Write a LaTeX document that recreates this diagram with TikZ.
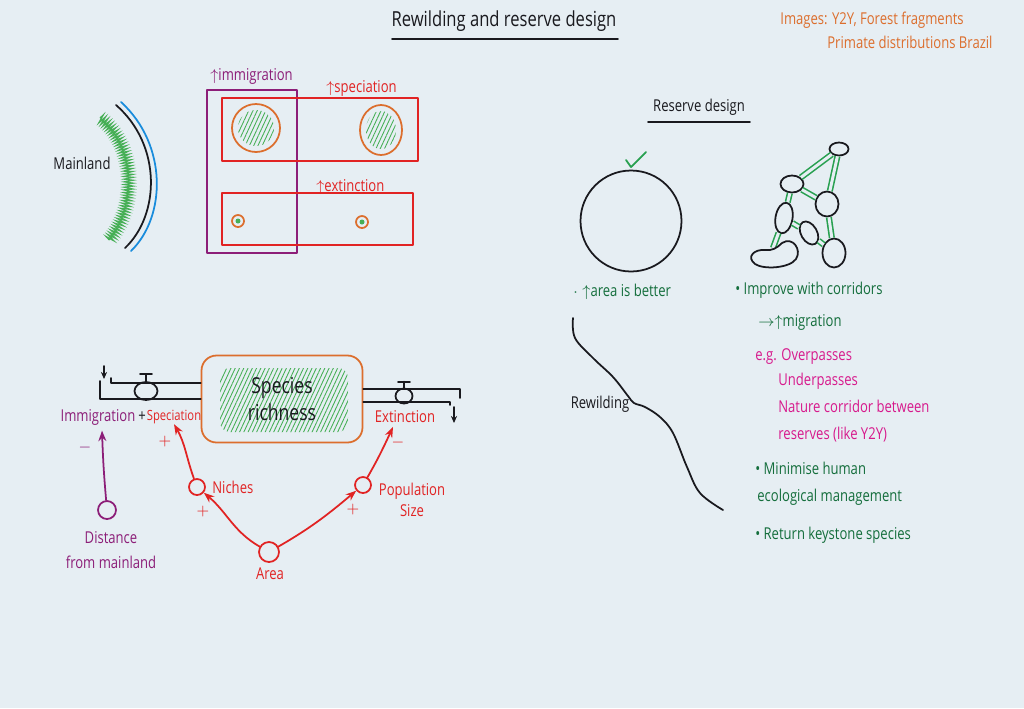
\documentclass[tikz,border=0pt]{standalone}
\usepackage{fontspec}
\setmainfont{Open Sans}[FakeStretch=0.8]
\usetikzlibrary{arrows.meta,shapes.geometric,decorations.pathmorphing,patterns.meta}
\definecolor{paper}{RGB}{230,238,243}
\definecolor{inkblack}{RGB}{25,25,30}
\definecolor{purpleink}{RGB}{140,30,120}
\definecolor{redink}{RGB}{225,35,35}
\definecolor{orangeink}{RGB}{220,110,45}
\definecolor{greenink}{RGB}{20,110,60}
\definecolor{hatchgreen}{RGB}{70,175,85}
\definecolor{magentaink}{RGB}{215,25,140}
\definecolor{blueink}{RGB}{25,140,220}
\definecolor{corrgreen}{RGB}{40,160,80}
\begin{document}
\begin{tikzpicture}[x=0.02cm,y=-0.02cm,
  ink/.style={line width=1pt, line cap=round, line join=round},
  txt/.style={inner sep=0pt, font=\fontsize{9.3}{11}\selectfont},
  arr/.style={ink, -{Stealth[length=6pt,width=4.5pt]}},
  smallarr/.style={ink, -{Stealth[length=4pt,width=3.5pt]}},
  valve/.style={ellipse, draw=inkblack, ink, inner sep=0pt},
  cnode/.style={circle, draw, ink, inner sep=0pt},
  blob/.style={ellipse, draw=inkblack, ink, fill=paper, inner sep=0pt},
  corridor/.style={draw=corrgreen, line width=0.9pt, double=paper, double distance=1.7pt},
  hatch/.style={pattern={Lines[angle=65,distance=2.2pt,line width=0.5pt]}, pattern color=hatchgreen}
]
\fill[paper] (0,0) rectangle (1024,708);
\useasboundingbox (0,0) rectangle (1024,708);

% ---------- title ----------
\node[txt, font=\fontsize{11.8}{13}\selectfont, text=inkblack] (title) at (504,21) {Rewilding and reserve design};
\draw[ink, inkblack] (392,39) -- (618,39);
\node[txt, text=orangeink, anchor=west] (img1) at (780,20) {Images: Y2Y, Forest fragments};
\node[txt, text=orangeink, anchor=west] (img2) at (827,42) {Primate distributions Brazil};

% ---------- mainland ----------
\node[txt, text=inkblack] (mainland) at (82,163) {Mainland};
\draw[hatchgreen, line width=0.7pt, decorate, decoration={zigzag, segment length=1.6pt, amplitude=2.5pt}]
  (100,118) .. controls (135,145) and (138,205) .. (109,240);
\draw[ink, inkblack] (116,105) .. controls (162,145) and (160,215) .. (125,248);
\draw[ink, blueink] (121,102) .. controls (168,145) and (166,217) .. (131,251);

% ---------- island boxes ----------
\draw[ink, purpleink] (207,90) rectangle (297,253);
\draw[ink, redink] (222,98) rectangle (418,161);
\draw[ink, redink] (222,193) rectangle (413,245);
\node[txt, text=purpleink, anchor=west] (limm) at (210,76) {$\uparrow$immigration};
\node[txt, text=redink, anchor=west] (lspec) at (326,88) {$\uparrow$speciation};
\node[txt, text=redink, anchor=west] (lext) at (316,187) {$\uparrow$extinction};
\fill[hatch] (256,128) ellipse [x radius=18, y radius=18];
\draw[ink, orangeink] (256,128) ellipse [x radius=24, y radius=24];
\fill[hatch] (381,130) ellipse [x radius=15, y radius=19];
\draw[ink, orangeink] (381,130) ellipse [x radius=21, y radius=25];
\draw[ink, orangeink] (238,221) circle [radius=6];
\fill[hatchgreen] (238,221) circle [radius=2.5];
\draw[ink, orangeink] (362,222) circle [radius=6];
\fill[hatchgreen] (362,222) circle [radius=2.5];

% ---------- stock and flow ----------
\fill[hatch, rounded corners=0.2cm] (220,368) rectangle (348,432);
\node[draw=orangeink, ink, rounded corners=0.3cm, minimum width=3.22cm, minimum height=1.74cm,
  align=center, inner sep=0pt, font=\fontsize{12.5}{15}\selectfont, text=inkblack] (stock) at (282,399) {Species\\richness};
\coordinate (lt) at (111,383);
\coordinate (lb) at (100,399);
\draw[ink, inkblack] (111,378) -- (lt) -- (lt -| stock.west);
\draw[ink, inkblack] (100,381) -- (lb) -- (lb -| stock.west);
\draw[smallarr, inkblack] (104,366) -- (104,379);
\node[valve, minimum width=0.46cm, minimum height=0.36cm] (v1) at (146,391) {};
\draw[ink, inkblack] (v1.north) -- ++(0,-7) ++(-6,0) -- ++(12,0);
\coordinate (rt) at (460,389);
\coordinate (rb) at (450,402);
\draw[ink, inkblack] (rt -| stock.east) -- (rt) -- (460,398);
\draw[ink, inkblack] (rb -| stock.east) -- (rb) -- (450,405);
\draw[smallarr, inkblack] (454,407) -- (454,423);
\node[valve, minimum width=0.34cm, minimum height=0.3cm] (v2) at (404,396) {};
\draw[ink, inkblack] (v2.north) -- ++(0,-6) ++(-6,0) -- ++(12,0);

\node[txt, text=purpleink] (imm) at (98,417) {Immigration};
\node[txt, text=inkblack] (plus) at (142,417) {+};
\node[txt, text=redink, font=\fontsize{8}{9}\selectfont] (spec) at (174,417) {Speciation};
\node[txt, text=redink] (ext) at (405,417) {Extinction};

\node[cnode, draw=purpleink, minimum size=0.36cm] (dist) at (107,510) {};
\node[cnode, draw=redink, minimum size=0.32cm] (niches) at (197,487) {};
\node[cnode, draw=redink, minimum size=0.40cm] (area) at (269,552) {};
\node[cnode, draw=redink, minimum size=0.32cm] (pop) at (363,485) {};
\node[txt, text=purpleink, align=center, font=\fontsize{9.3}{14}\selectfont] (distl) at (111,550) {Distance\\from mainland};
\node[txt, text=redink, anchor=west] (nichesl) at (212,487) {Niches};
\node[txt, text=redink] (areal) at (270,574) {Area};
\node[txt, text=redink, align=center, font=\fontsize{9.3}{12}\selectfont] (popl) at (412,500) {Population\\Size};

\draw[arr, purpleink] (dist) to[out=95,in=-88] ([xshift=0.08cm,yshift=-3pt]imm.south);
\draw[arr, redink] (niches) to[out=110,in=-60] (spec.south);
\draw[arr, redink] (area) to[out=150,in=-40] (niches);
\draw[arr, redink] (area) to[out=30,in=-140] (pop);
\draw[arr, redink] (pop) to[out=60,in=-115] ([xshift=-0.24cm,yshift=-2pt]ext.south);
\node[txt, text=purpleink] (s1) at (85,448) {$-$};
\node[txt, text=redink] (s2) at (165,442) {$+$};
\node[txt, text=redink] (s3) at (203,512) {$+$};
\node[txt, text=redink] (s4) at (353,510) {$+$};
\node[txt, text=redink] (s5) at (398,443) {$-$};

% ---------- reserve design ----------
\node[txt, text=inkblack] (rd) at (699,107) {Reserve design};
\draw[ink, inkblack] (648,122) -- (750,122);
\node[cnode, draw=inkblack, minimum size=2.02cm] (bigc) at (631,221) {};
\draw[ink, corrgreen] (626,160) -- (631,167) -- (646,152);

\node[blob, minimum width=0.38cm, minimum height=0.26cm] (nt) at (839,149) {};
\node[blob, minimum width=0.46cm, minimum height=0.34cm] (na) at (792,184) {};
\node[blob, minimum width=0.46cm, minimum height=0.50cm] (nb) at (827,204) {};
\node[blob, minimum width=0.34cm, minimum height=0.62cm, rotate=-10] (nc) at (784,218) {};
\node[blob, minimum width=0.32cm, minimum height=0.50cm, rotate=30] (nd) at (809,233) {};
\node[blob, minimum width=0.46cm, minimum height=0.58cm] (ne) at (834,253) {};
\coordinate (nf) at (773,248);
\draw[corridor] (nt) -- (na);
\draw[corridor] (nt) -- (nb);
\draw[corridor] (na) -- (nb);
\draw[corridor] (na) -- (nc);
\draw[corridor] (nc) -- (nd);
\draw[corridor] (nc) -- (nf);
\draw[corridor] (nd) -- (ne);
\draw[corridor] (nb) -- (ne);
\draw[ink, inkblack, fill=paper] (755,264) .. controls (746,257) and (754,249) .. (765,250)
  .. controls (772,251) and (777,248) .. (782,243) .. controls (793,236) and (802,250) .. (796,259)
  .. controls (790,268) and (764,270) .. (755,264) -- cycle;

\node[txt, text=greenink, anchor=west] (ab) at (573,292) {$\cdot\uparrow$area is better};
\node[txt, text=greenink, anchor=west] (b1) at (735,290) {• Improve with corridors};
\node[txt, text=greenink, anchor=west] (b1a) at (758,322) {$\rightarrow\uparrow$migration};
\node[txt, text=magentaink, anchor=west] (eg1) at (755,357) {e.g. Overpasses};
\node[txt, text=magentaink, anchor=west] (eg2) at (778,381) {Underpasses};
\node[txt, text=magentaink, anchor=west] (eg3) at (778,406) {Nature corridor between};
\node[txt, text=magentaink, anchor=west] (eg4) at (778,435) {reserves (like Y2Y)};
\node[txt, text=greenink, anchor=west] (b2) at (755,468) {• Minimise human};
\node[txt, text=greenink, anchor=west] (b2a) at (757,497) {ecological management};
\node[txt, text=greenink, anchor=west] (b3) at (755,535) {• Return keystone species};

\node[txt, text=inkblack] (rew) at (600,404) {Rewilding};
\draw[ink, inkblack] plot[smooth, tension=0.6] coordinates {(573,318) (575,338) (593,358) (613,377) (628,396) (634,403) (645,407) (660,417) (673,433) (687,467) (700,493) (723,510)};
\end{tikzpicture}
\end{document}
